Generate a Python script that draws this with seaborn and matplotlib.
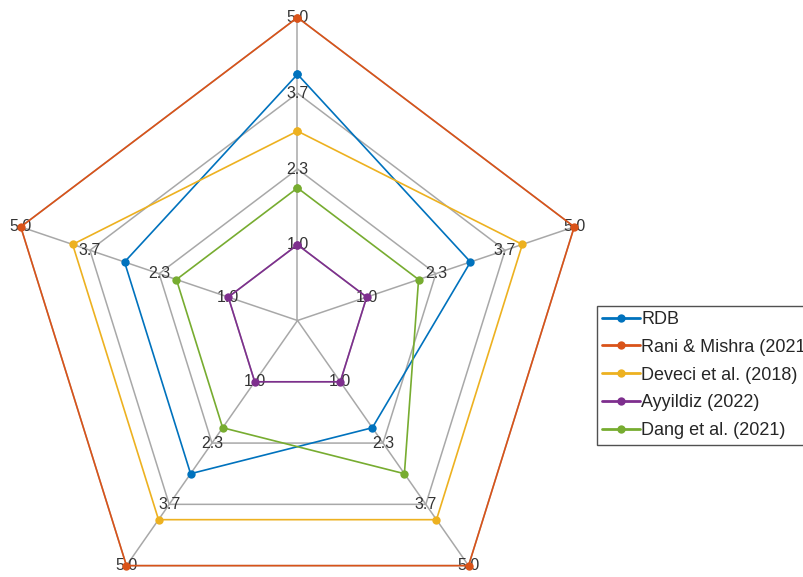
import numpy as np
import pandas as pd
import matplotlib
matplotlib.use("Agg")
import matplotlib.pyplot as plt
import seaborn as sns

sns.set_style("white")
plt.rcParams["font.family"] = ["Liberation Sans", "DejaVu Sans"]

# Series names and scores on the five criteria (top, then clockwise)
series_names = ["RDB", "Rani & Mishra (2021)", "Deveci et al. (2018)",
                "Ayyildiz (2022)", "Dang et al. (2021)"]
rdb = [4.0, 3.0, 2.0, 3.0, 3.0]
rani_mishra = [5.0, 5.0, 5.0, 5.0, 5.0]
deveci = [3.0, 4.0, 4.0, 4.0, 4.0]
ayyildiz = [1.0, 1.0, 1.0, 1.0, 1.0]
dang = [2.0, 2.0, 3.0, 2.0, 2.0]
series_values = [rdb, rani_mishra, deveci, ayyildiz, dang]

ring_values = [1.0, 2.3333, 3.6667, 5.0]
ring_labels = ["1.0", "2.3", "3.7", "5.0"]

colors = ["#0072BD", "#D95319", "#EDB120", "#7E2F8E", "#77AC30"]

v_min, v_max = 1.0, 5.0
offset = 0.25  # inner ring sits a quarter of the way out from the centre
n_axes = 5
angles = np.deg2rad(90 - 72 * np.arange(n_axes))


def radius(v):
    return offset + (1 - offset) * (np.asarray(v, dtype=float) - v_min) / (v_max - v_min)


W, H = 804, 577
fig = plt.figure(figsize=(W / 100, H / 100), dpi=100)
ax = fig.add_axes([0, 0, 1, 1])

# pixel geometry of the web
cx, cy, sx, sy = 297.5, 320.5, 291.0, 303.0
ax.set_axis_off()

grid_color = "#A8A8A8"
# spokes
for a in angles:
    ax.plot([0, np.cos(a)], [0, np.sin(a)], color=grid_color, lw=1.1, zorder=1)
# rings
closed = np.append(angles, angles[0])
for rv in ring_values:
    r = radius(rv)
    ax.plot(r * np.cos(closed), r * np.sin(closed), color=grid_color, lw=1.1, zorder=1)

# ring value labels on every spoke
for a in angles:
    for rv, lab in zip(ring_values, ring_labels):
        r = radius(rv)
        ax.text(r * np.cos(a), r * np.sin(a), lab, ha="center", va="center",
                fontsize=11.5, color="#333333", zorder=2)

# data polygons
for name, vals, col in zip(series_names, series_values, colors):
    r = radius(vals + vals[:1])
    df = pd.DataFrame({"x": r * np.cos(closed), "y": r * np.sin(closed)})
    sns.lineplot(data=df, x="x", y="y", sort=False, estimator=None, color=col,
                 marker="o", markersize=6, markeredgewidth=0, lw=1.2,
                 label=name, ax=ax, zorder=3)

ax.set_xlim(-cx / sx, (W - cx) / sx)
ax.set_ylim(-(H - cy) / sy, cy / sy)

leg = ax.legend(loc="upper left", bbox_to_anchor=(597 / W, 1 - 305.5 / H),
                bbox_transform=fig.transFigure, fontsize=13, frameon=True,
                fancybox=False, edgecolor="#262626", borderpad=0.3,
                labelspacing=0.6, handlelength=2.1, handletextpad=0.05,
                borderaxespad=0)
leg.get_frame().set_linewidth(1.0)
for line in leg.get_lines():
    line.set_linewidth(2.0)

fig.savefig("out.png", dpi=100)
